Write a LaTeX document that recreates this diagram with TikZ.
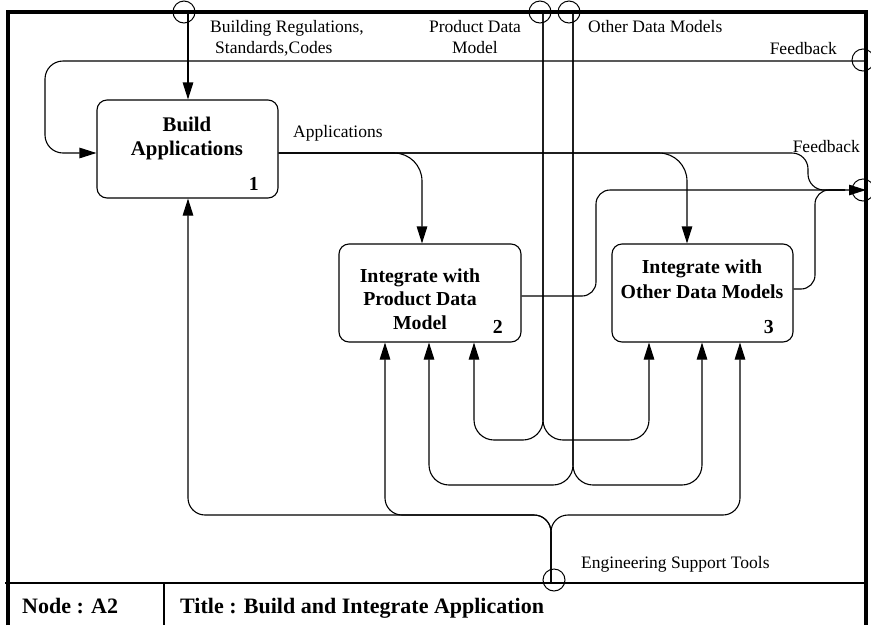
\documentclass[tikz,border=0pt]{standalone}
\usepackage{fontspec}
\setmainfont{Liberation Serif}
\usetikzlibrary{arrows.meta}
\begin{document}
\begin{tikzpicture}[x=1pt,y=-1pt,
  wire/.style={line width=1.1pt, rounded corners=20pt},
  arr/.style={-{Triangle[length=17pt,width=10.5pt]}},
  actbox/.style={draw, line width=1.1pt, rounded corners=10pt, inner sep=0pt,
                 minimum width=181pt, minimum height=98pt},
  tunnel/.style={circle, draw, line width=1pt, minimum size=22pt, inner sep=0pt},
  lbl/.style={font=\fontsize{17.5}{21}\selectfont, inner sep=0pt},
  boxtxt/.style={font=\bfseries\fontsize{19.8}{24}\selectfont, inner sep=0pt},
  boxtxtl/.style={font=\bfseries\fontsize{20.8}{25}\selectfont, inner sep=0pt},
  ttl/.style={font=\bfseries\fontsize{22}{26}\selectfont, inner sep=0pt}]

\fill[white] (0,0) rectangle (871,625);
\useasboundingbox (0,0) rectangle (871,625);

% outer frame and title block
\draw[line width=4pt, line join=miter] (8,625) -- (8,12) -- (866,12) -- (866,625);
\draw[line width=1.1pt] (5,583) -- (866,583);
\draw[line width=1.1pt] (164,583) -- (164,625);
\node[ttl, anchor=base west] (nodeid) at (22,613) {Node : A2};
\node[ttl, anchor=base west] (title) at (180,613) {Title : Build and Integrate Application};

% activity boxes
\node[actbox] (b1) at (187.5,149) {};
\node[actbox, minimum width=182pt] (b2) at (430,293) {};
\node[actbox] (b3) at (702.5,293) {};

\node[boxtxtl, anchor=base] (b1t1) at (187,131) {Build};
\node[boxtxtl, anchor=base] (b1t2) at (187,155) {Applications};
\node[boxtxt, anchor=base east] (b1n) at (259,190) {1};

\node[boxtxt, anchor=base] (b2t1) at (420,282) {Integrate with};
\node[boxtxt, anchor=base] (b2t2) at (420,305) {Product Data};
\node[boxtxt, anchor=base] (b2t3) at (420,329) {Model};
\node[boxtxt, anchor=base east] (b2n) at (503,333) {2};

\node[boxtxt, anchor=base] (b3t1) at (702,273) {Integrate with};
\node[boxtxt, anchor=base] (b3t2) at (702,298) {Other Data Models};
\node[boxtxt, anchor=base east] (b3n) at (774,333) {3};

% boundary points of the arrows
\coordinate (brIn) at (188,12);
\coordinate (pdIn) at (543,12);
\coordinate (odIn) at (573,12);
\coordinate (fbIn) at (866,61);
\coordinate (fbOut) at (866,190);
\coordinate (estIn) at (551,583);
\coordinate (appRow) at (0,153);

% controls from above
\draw[wire,arr] (brIn) -- (brIn |- b1.north);

% feedback into Build Applications
\draw[wire,arr,rounded corners=18pt] (fbIn) -- (45,61) -- (45,153) -- (b1.west |- appRow);

% applications output and its branches
\draw[wire,rounded corners=16pt] (b1.east |- appRow) -- (808,153) -- (808,190) -- (845,190);
\draw[wire,arr,rounded corners=28pt] (b1.east |- appRow) -- (422,153) -- (422,0 |- b2.north);
\draw[wire,arr,rounded corners=28pt] (b1.east |- appRow) -- (687,153) -- (687,0 |- b3.north);

% outputs of the integration activities
\draw[wire,arr,rounded corners=14pt] (b2.east |- 0,296) -- (596,296) -- (596,190) -- (fbOut);
\draw[wire,rounded corners=14pt] (b3.east |- 0,289) -- (815,289) -- (815,190) -- (845,190);

% product data model
\draw[wire,arr] (pdIn) -- (543,440) -- (474,440) -- (474,0 |- b2.south);
\draw[wire,arr] (pdIn) -- (543,440) -- (649,440) -- (649,0 |- b3.south);

% other data models
\draw[wire,arr] (odIn) -- (573,485) -- (429,485) -- (429,0 |- b2.south);
\draw[wire,arr] (odIn) -- (573,485) -- (702,485) -- (702,0 |- b3.south);

% engineering support tools
\draw[wire,arr,rounded corners=17pt] (estIn) -- (551,515) -- (188,515) -- (188,0 |- b1.south);
\draw[wire,arr,rounded corners=17pt] (estIn) -- (551,515) -- (385,515) -- (385,0 |- b2.south);
\draw[wire,arr,rounded corners=17pt] (estIn) -- (551,515) -- (740,515) -- (740,0 |- b3.south);

% tunnel circles on the boundary
\node[tunnel] (brT) at (184,12) {};
\node[tunnel] (pdT) at (540,12) {};
\node[tunnel] (odT) at (569,12) {};
\node[tunnel] (fbInT) at (863,60) {};
\node[tunnel] (fbOutT) at (863,190) {};
\node[tunnel] (estT) at (554,580) {};

% arrow labels
\node[lbl, anchor=base west] (brl1) at (210,32) {Building Regulations,};
\node[lbl, anchor=base west] (brl2) at (215,53) {Standards,Codes};
\node[lbl, anchor=base] (pdl1) at (475,32) {Product Data};
\node[lbl, anchor=base] (pdl2) at (475,53) {Model};
\node[lbl, anchor=base west] (odl) at (588,32) {Other Data Models};
\node[lbl, anchor=base east] (fbl1) at (837,54) {Feedback};
\node[lbl, anchor=base east] (fbl2) at (860,152) {Feedback};
\node[lbl, anchor=base west] (appl) at (293,137) {Applications};
\node[lbl, anchor=base west] (estl) at (581,568) {Engineering Support Tools};
\end{tikzpicture}
\end{document}
